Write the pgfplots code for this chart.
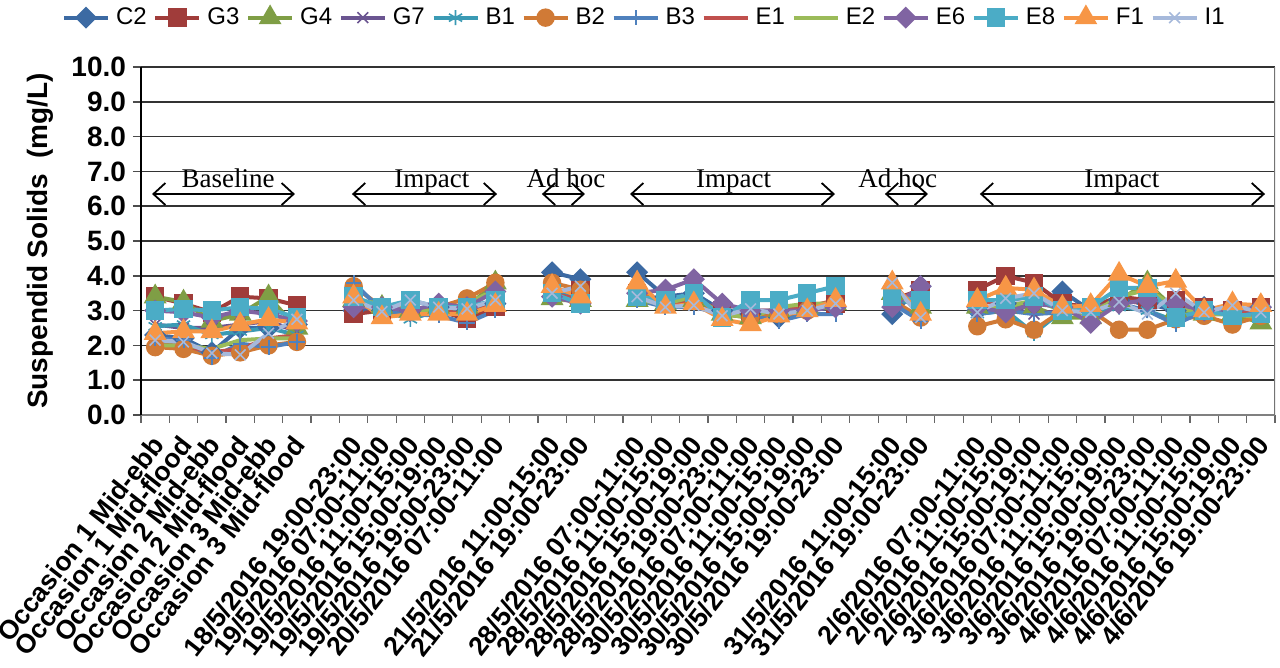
\documentclass[border=0pt]{standalone}
\usepackage{fontspec}
\setmainfont{Liberation Sans}
\newfontfamily\annfont{Liberation Serif}
\usepackage{pgfplots}
\pgfplotsset{compat=1.18}
\usepackage{pgfplotstable}
\usetikzlibrary{arrows.meta}

\definecolor{cC2}{RGB}{60,106,163}
\definecolor{cG3}{RGB}{160,60,58}
\definecolor{cG4}{RGB}{127,158,69}
\definecolor{cG7}{RGB}{107,85,145}
\definecolor{cB1}{RGB}{58,154,180}
\definecolor{cB2}{RGB}{208,122,54}
\definecolor{cB3}{RGB}{79,129,189}
\definecolor{cE1}{RGB}{192,80,77}
\definecolor{cE2}{RGB}{155,187,89}
\definecolor{cE6}{RGB}{128,100,162}
\definecolor{cE8}{RGB}{75,172,198}
\definecolor{cF1}{RGB}{247,150,70}
\definecolor{cI1}{RGB}{166,185,219}

\pgfplotstableread{
x C2 G3 G4 G7 B1 B2 B3 E1 E2 E6 E8 F1 I1
0 2.3 3.4 3.4 2.6 2.55 1.95 2.2 2.1 2.0 3.0 3.0 2.35 2.15
1 2.2 3.2 3.25 2.5 2.6 1.9 2.15 2.0 2.0 2.95 3.05 2.4 2.1
2 1.8 2.95 2.7 2.5 2.3 1.7 1.65 1.8 1.9 2.8 3.0 2.4 1.78
3 2.5 3.4 2.9 2.6 2.4 1.8 2.05 1.9 2.15 3.0 3.1 2.6 1.73
4 2.5 3.35 3.4 2.7 2.5 2.0 1.95 2.2 2.2 2.9 3.05 2.75 2.35
5 2.6 3.15 2.5 2.4 2.3 2.1 2.1 2.3 2.2 2.7 2.8 2.65 2.75
6 nan nan nan nan nan nan nan nan nan nan nan nan nan
7 3.0 2.9 3.3 3.2 3.3 3.7 3.8 3.3 3.3 3.1 3.4 3.4 3.3
8 3.0 3.0 3.1 3.1 3.0 3.1 3.0 3.1 3.2 3.1 3.1 2.8 2.97
9 3.0 3.0 3.0 3.1 2.75 3.0 2.9 3.0 3.0 3.0 3.3 2.9 3.3
10 3.1 3.0 3.1 3.0 3.0 3.1 2.85 3.0 3.0 3.2 3.1 2.9 3.1
11 3.0 2.75 3.1 3.1 3.0 3.35 2.65 2.9 3.2 3.1 3.1 2.9 3.05
12 3.2 3.1 3.8 3.2 3.3 3.8 3.0 3.2 3.6 3.55 3.3 3.15 3.3
13 nan nan nan nan nan nan nan nan nan nan nan nan nan
14 4.1 3.5 3.35 3.5 3.5 3.8 3.4 3.5 3.3 3.4 3.5 3.7 3.5
15 3.9 3.6 3.3 3.4 3.4 3.6 3.4 3.3 3.3 3.2 3.2 3.4 3.7
16 nan nan nan nan nan nan nan nan nan nan nan nan nan
17 4.1 3.5 3.3 3.4 3.4 3.6 3.3 3.4 3.3 3.5 3.4 3.8 3.4
18 3.4 3.2 3.2 3.2 3.2 3.2 3.1 3.2 3.2 3.6 3.3 3.1 3.1
19 3.5 3.3 3.3 3.2 3.2 3.3 3.1 3.3 3.4 3.9 3.5 3.2 3.15
20 3.0 3.0 2.9 3.0 2.9 2.9 2.9 3.0 2.9 3.2 2.8 2.75 2.85
21 2.9 3.0 2.8 2.95 3.0 2.8 2.85 2.9 2.8 3.0 3.3 2.6 3.05
22 2.8 3.0 3.0 3.0 2.9 2.9 2.7 3.0 3.1 3.0 3.3 2.85 2.9
23 3.0 3.1 3.1 3.05 3.0 3.0 2.9 3.1 3.2 3.0 3.5 3.0 3.0
24 3.1 3.2 3.2 3.1 3.2 3.2 2.9 3.3 3.2 3.1 3.7 3.3 3.2
25 nan nan nan nan nan nan nan nan nan nan nan nan nan
26 2.9 3.3 3.5 3.2 3.3 3.3 3.2 3.2 3.5 3.1 3.4 3.8 3.8
27 3.7 3.6 3.1 3.3 3.2 2.8 2.7 3.6 3.1 3.7 3.3 2.9 2.8
28 nan nan nan nan nan nan nan nan nan nan nan nan nan
29 3.0 3.6 3.1 3.1 2.9 2.55 2.9 3.2 3.1 3.1 3.3 3.3 2.95
30 3.2 4.0 3.1 3.1 3.0 2.75 3.0 3.3 3.1 2.95 3.3 3.65 3.35
31 3.2 3.8 3.1 2.9 2.35 2.45 2.9 3.4 3.3 3.2 3.4 3.6 3.5
32 3.55 3.2 2.8 3.0 3.0 3.0 2.95 3.2 3.0 3.1 3.0 3.1 3.0
33 3.0 3.1 2.8 3.0 3.0 3.0 3.1 3.0 2.9 2.65 3.1 3.15 2.95
34 3.3 3.4 3.3 3.2 3.1 2.45 3.2 3.3 3.4 3.2 3.65 4.05 3.25
35 3.2 3.3 3.8 3.3 3.0 2.45 3.0 3.2 3.6 3.3 3.65 3.7 2.9
36 3.0 3.3 3.0 3.1 2.7 2.75 2.6 3.3 3.1 3.2 2.8 3.85 3.5
37 3.1 3.1 2.9 3.0 2.9 2.85 3.0 3.1 2.9 3.0 3.0 3.0 2.95
38 3.0 3.0 2.9 3.0 2.9 2.6 2.9 2.9 2.9 3.0 2.85 3.2 3.15
39 3.1 3.1 2.65 3.0 2.9 2.85 3.0 3.1 2.8 3.1 2.9 3.15 2.95
}\datatable

\begin{document}
\begin{tikzpicture}
\begin{axis}[
  name=ax,
  at={(0,0)}, anchor=south west,
  scale only axis,
  width=567pt, height=174pt,
  xmin=-0.5, xmax=39.5,
  ymin=0, ymax=10,
  axis x line*=bottom,
  axis y line*=left,
  x axis line style={draw=black!50, line width=0.8pt},
  y axis line style={draw=black, line width=0.8pt},
  tick align=outside,
  xtick={0,...,39},
  xticklabels={Occasion 1 Mid-ebb, Occasion 1 Mid-flood, Occasion 2 Mid-ebb, Occasion 2 Mid-flood, Occasion 3 Mid-ebb, Occasion 3 Mid-flood, {}, 18/5/2016 19:00-23:00, 19/5/2016 07:00-11:00, 19/5/2016 11:00-15:00, 19/5/2016 15:00-19:00, 19/5/2016 19:00-23:00, 20/5/2016 07:00-11:00, {}, 21/5/2016 11:00-15:00, 21/5/2016 19:00-23:00, {}, 28/5/2016 07:00-11:00, 28/5/2016 11:00-15:00, 28/5/2016 15:00-19:00, 28/5/2016 19:00-23:00, 30/5/2016 07:00-11:00, 30/5/2016 11:00-15:00, 30/5/2016 15:00-19:00, 30/5/2016 19:00-23:00, {}, 31/5/2016 11:00-15:00, 31/5/2016 19:00-23:00, {}, 2/6/2016 07:00-11:00, 2/6/2016 11:00-15:00, 2/6/2016 15:00-19:00, 3/6/2016 07:00-11:00, 3/6/2016 11:00-15:00, 3/6/2016 15:00-19:00, 3/6/2016 19:00-23:00, 4/6/2016 07:00-11:00, 4/6/2016 11:00-15:00, 4/6/2016 15:00-19:00, 4/6/2016 19:00-23:00},
  major x tick style={draw=none},
  minor xtick={-0.5,0.5,...,39.5},
  minor x tick style={draw=black!60, line width=0.6pt},
  minor tick length=4pt,
  major tick length=4pt,
  ytick={0,1,...,10},
  y tick style={draw=black!70, line width=0.8pt},
  ymajorgrids,
  major grid style={draw=black!80, line width=0.8pt},
  yticklabel style={/pgf/number format/.cd, fixed, fixed zerofill, precision=1, assume math mode=true},
  scaled y ticks=false,
  ticklabel style={font=\fontsize{14}{16}\selectfont\bfseries},
  xticklabel style={xshift=2pt, yshift=-7.5pt, rotate=52, anchor=east, inner sep=1pt, font=\fontsize{13.3}{15}\selectfont\bfseries},
  ylabel={Suspendid Solids\ \ (mg/L)},
  ylabel style={at={(axis description cs:-0.089,0.5)}, anchor=center, font=\fontsize{14}{16}\selectfont\bfseries},
  unbounded coords=jump,
  every axis plot/.append style={line width=2pt},
  legend columns=13,
  legend style={at={(-0.070,1.18)}, anchor=north west, draw=none, fill=none,
    font=\fontsize{12}{14}\selectfont, inner sep=0pt,
    nodes={inner sep=1.5pt},
    /tikz/every odd column/.append style={column sep=1.5pt},
    /tikz/every even column/.append style={column sep=1.85pt}},
  legend image code/.code={\draw[mark repeat=2,mark phase=2,#1] plot coordinates {(0pt,0pt) (11pt,0pt) (22pt,0pt)};},
]
\addplot[color=cC2, mark=square*, mark size=2.9pt, mark options={rotate=45, solid}] table[x=x,y=C2] {\datatable};
\addlegendentry{C2}
\addplot[color=cG3, mark=square*, mark size=3.6pt, mark options={solid}] table[x=x,y=G3] {\datatable};
\addlegendentry{G3}
\addplot[color=cG4, mark=triangle*, mark size=4.6pt, mark options={solid}] table[x=x,y=G4] {\datatable};
\addlegendentry{G4}
\addplot[color=cG7, mark=x, mark size=3.8pt, mark options={solid, line width=0.8pt}] table[x=x,y=G7] {\datatable};
\addlegendentry{G7}
\addplot[color=cB1, mark=asterisk, mark size=3.8pt, mark options={solid, line width=0.8pt}] table[x=x,y=B1] {\datatable};
\addlegendentry{B1}
\addplot[color=cB2, mark=*, mark size=3.6pt, mark options={solid}] table[x=x,y=B2] {\datatable};
\addlegendentry{B2}
\addplot[color=cB3, mark=+, mark size=3.8pt, mark options={solid, line width=1pt}] table[x=x,y=B3] {\datatable};
\addlegendentry{B3}
\addplot[color=cE1, no marks] table[x=x,y=E1] {\datatable};
\addlegendentry{E1}
\addplot[color=cE2, no marks] table[x=x,y=E2] {\datatable};
\addlegendentry{E2}
\addplot[color=cE6, mark=square*, mark size=2.9pt, mark options={rotate=45, solid}] table[x=x,y=E6] {\datatable};
\addlegendentry{E6}
\addplot[color=cE8, mark=square*, mark size=3.6pt, mark options={solid}] table[x=x,y=E8] {\datatable};
\addlegendentry{E8}
\addplot[color=cF1, mark=triangle*, mark size=4.6pt, mark options={solid}] table[x=x,y=F1] {\datatable};
\addlegendentry{F1}
\addplot[color=cI1, mark=x, mark size=3.8pt, mark options={solid, line width=0.8pt}] table[x=x,y=I1] {\datatable};
\addlegendentry{I1}

\draw[black!55, line width=1.2pt] (rel axis cs:1,0) -- (rel axis cs:1,1);
\tikzset{ann/.style={{Straight Barb[length=6pt,width=11pt]}-{Straight Barb[length=6pt,width=11pt]}, line width=0.9pt, black},
  annt/.style={anchor=base, font=\annfont\fontsize{13.5}{15}\selectfont, inner sep=0pt}}
\draw[ann] (axis cs:-0.11,6.35) -- (axis cs:4.93,6.35);
\node[annt] at (axis cs:2.57,6.55) {Baseline};
\draw[ann] (axis cs:6.94,6.35) -- (axis cs:12.06,6.35);
\node[annt] at (axis cs:9.76,6.55) {Impact};
\draw[ann] (axis cs:13.64,6.35) -- (axis cs:15.16,6.35);
\node[annt] at (axis cs:14.49,6.55) {Ad hoc};
\draw[ann] (axis cs:16.75,6.35) -- (axis cs:23.98,6.35);
\node[annt] at (axis cs:20.4,6.55) {Impact};
\draw[ann] (axis cs:25.74,6.35) -- (axis cs:27.26,6.35);
\node[annt] at (axis cs:26.19,6.55) {Ad hoc};
\draw[ann] (axis cs:29.09,6.35) -- (axis cs:39.15,6.35);
\node[annt] at (axis cs:34.1,6.55) {Impact};
\end{axis}
\pgfresetboundingbox
\path (-70.5pt,-126.5pt) rectangle (569.5pt,207.5pt);
\end{tikzpicture}
\end{document}
